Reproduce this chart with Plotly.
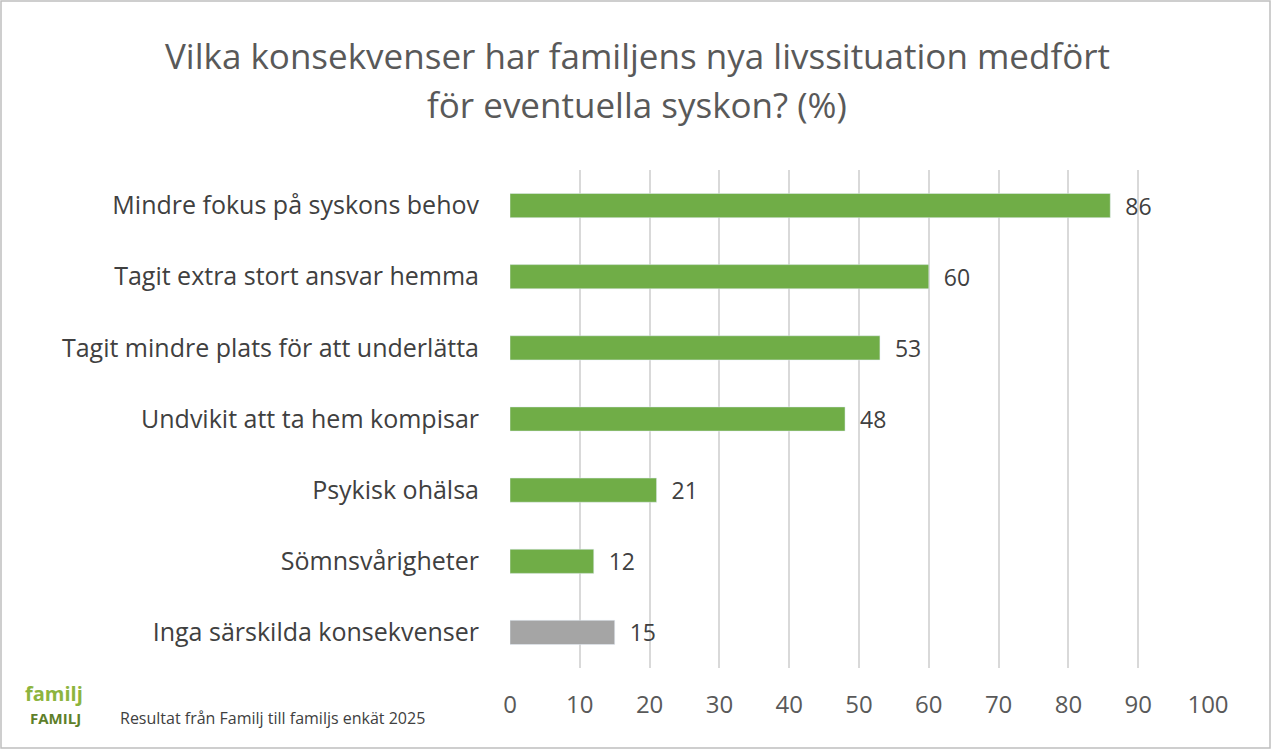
import plotly.graph_objects as go

categories = ["Mindre fokus på syskons behov", "Tagit extra stort ansvar hemma",
              "Tagit mindre plats för att underlätta", "Undvikit att ta hem kompisar",
              "Psykisk ohälsa", "Sömnsvårigheter", "Inga särskilda konsekvenser"]
values = [86, 60, 53, 48, 21, 12, 15]
colors = ["#70AD47"] * 6 + ["#A5A5A5"]
x_ticks = [0, 10, 20, 30, 40, 50, 60, 70, 80, 90, 100]
title_lines = ["Vilka konsekvenser har familjens nya livssituation medfört",
               "för eventuella syskon? (%)"]

fig = go.Figure(go.Bar(
    x=values, y=categories, orientation="h", marker_color=colors, width=0.34,
    text=["  " + str(v) for v in values], textposition="outside", cliponaxis=False,
    constraintext="none", textfont=dict(size=23, color="#404040"),
))

fig.update_layout(
    width=1271, height=749, plot_bgcolor="white", paper_bgcolor="white",
    font=dict(family="Open Sans, Arial", color="#404040"),
    margin=dict(l=510, r=63, t=170, b=81),
    showlegend=False,
    xaxis=dict(range=[0, 100], tickvals=x_ticks, showgrid=True, gridcolor="#D9D9D9",
               gridwidth=1.5, zeroline=False, tickfont=dict(size=24, color="#595959"),
               ticks="", ticklabelstandoff=20),
    yaxis=dict(autorange="reversed", tickfont=dict(size=25, color="#404040"),
               ticks="", ticklabelstandoff=30),
    shapes=[dict(type="rect", xref="paper", yref="paper", x0=-509/698, x1=1+62/698,
                 y0=-80/498, y1=1+169/498, line=dict(color="#BFBFBF", width=1.5))],
)

# title as two annotations (page y 55 and 105)
for line, py in zip(title_lines, [55, 105]):
    fig.add_annotation(text=line, xref="paper", yref="paper",
                       x=(637 - 510) / 698, y=1 + (170 - py) / 498,
                       xanchor="center", yanchor="middle", showarrow=False,
                       font=dict(size=35, color="#595959"))

fig.add_annotation(text="Resultat från Familj till familjs enkät 2025", xref="paper", yref="paper",
                   x=-392/698, y=-50/498, xanchor="left", yanchor="middle", showarrow=False,
                   font=dict(size=16, color="#404040"))
fig.add_annotation(text="<b>familj</b>", xref="paper", yref="paper",
                   x=-487/698, y=-25/498, xanchor="left", yanchor="middle", showarrow=False,
                   font=dict(size=20, color="#8DB43E"))
fig.add_annotation(text="<b>FAMILJ</b>", xref="paper", yref="paper",
                   x=-482/698, y=-50/498, xanchor="left", yanchor="middle", showarrow=False,
                   font=dict(size=15, color="#5E7F2A"))

fig.write_html("out.html", config={"displayModeBar": False},
               post_script="document.body.style.margin='0';")
